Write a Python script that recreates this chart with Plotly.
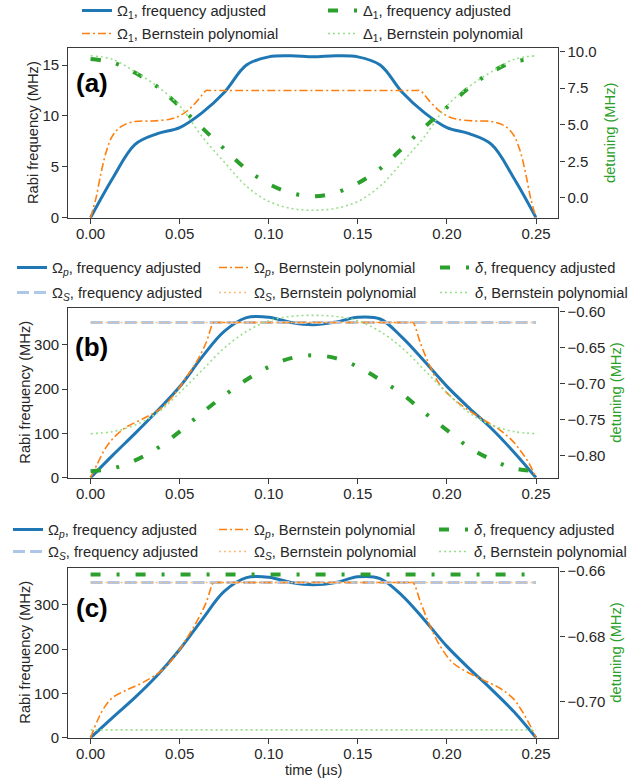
import plotly.graph_objects as go

# ---------------- data ----------------
t_grid = [0.0, 0.0125, 0.025, 0.0375, 0.05, 0.0625, 0.075, 0.0875, 0.1, 0.1125, 0.125,
          0.1375, 0.15, 0.1625, 0.175, 0.1875, 0.2, 0.2125, 0.225, 0.2375, 0.25]

# panel (a)
omega1_fa = [0, 3.9, 7.2, 8.25, 8.85, 10.3, 12.3, 15.0, 15.8, 15.9, 15.8,
             15.9, 15.8, 15.0, 12.3, 10.3, 8.85, 8.25, 7.2, 3.9, 0]
t_bp_a = [0, 0.003, 0.006, 0.009, 0.0125, 0.0175, 0.025, 0.035, 0.045, 0.05, 0.055, 0.06,
          0.065, 0.0665, 0.125, 0.1835, 0.185, 0.19, 0.195, 0.2, 0.205, 0.215, 0.225,
          0.2325, 0.2375, 0.241, 0.244, 0.247, 0.25]
omega1_bp = [0, 1.9, 4.5, 6.6, 8.1, 9.0, 9.45, 9.5, 9.7, 10.0, 10.6, 11.5,
             12.5, 12.5, 12.5, 12.5, 12.5, 11.5, 10.6, 10.0, 9.7, 9.5, 9.45,
             9.0, 8.1, 6.6, 4.5, 1.9, 0]
delta1_fa = [9.5, 9.25, 8.55, 7.6, 6.25, 4.8, 3.35, 1.95, 0.95, 0.33, 0.1,
             0.35, 1.0, 2.0, 3.4, 4.85, 6.2, 7.55, 8.6, 9.3, 9.5]
delta1_bp = [9.72, 9.47, 8.62, 7.62, 6.3, 4.2, 2.45, 0.8, -0.25, -0.72, -0.85,
             -0.72, -0.25, 0.8, 2.45, 4.2, 6.3, 7.62, 8.62, 9.47, 9.72]

# panel (b)
omegaP_fa_b = [0, 51, 100, 151, 205, 272, 330, 361, 362, 350, 345,
               351, 362, 358, 316, 262, 206, 157, 111, 58, 0]
t_bp_bc = [0, 0.004, 0.008, 0.0125, 0.02, 0.03, 0.04, 0.047, 0.054, 0.06, 0.065, 0.069,
           0.0705, 0.125, 0.1795, 0.181, 0.185, 0.19, 0.196, 0.203, 0.21, 0.22, 0.23,
           0.2375, 0.242, 0.246, 0.25]
omegaP_bp_b = [0, 33, 64, 88, 114, 134, 158, 188, 228, 265, 306, 350,
               350, 350, 350, 350, 305, 256, 210, 180, 158, 132, 107,
               80, 57, 33, 0]
t_const = [0.0, 0.25]
omegaS_fa = [350, 350]
omegaS_bp = [350, 350]
delta_fa_b = [-0.822, -0.818, -0.807, -0.790, -0.767, -0.741, -0.717, -0.695, -0.677, -0.665, -0.661,
              -0.665, -0.677, -0.695, -0.715, -0.741, -0.765, -0.789, -0.806, -0.818, -0.822]
delta_bp_b = [-0.770, -0.767, -0.758, -0.741, -0.713, -0.682, -0.651, -0.628, -0.613, -0.607, -0.6055,
              -0.607, -0.613, -0.628, -0.651, -0.682, -0.713, -0.741, -0.758, -0.767, -0.770]

# panel (c)
omegaP_fa_c = [0, 46, 91, 141, 199, 266, 330, 361, 362, 350, 345,
               350, 363, 359, 320, 265, 206, 156, 109, 59, 0]
omegaP_bp_c = [0, 40, 70, 91, 107, 126, 152, 182, 224, 265, 306, 350,
               350, 350, 350, 350, 308, 257, 208, 170, 151, 131, 111,
               87, 61, 33, 0]
delta_fa_c = [-0.661, -0.661]
delta_bp_c = [-0.7087, -0.7087]

# ticks
x_ticks = [0.0, 0.05, 0.10, 0.15, 0.20, 0.25]
x_ticktext = ["0.00", "0.05", "0.10", "0.15", "0.20", "0.25"]
ya_ticks = [0, 5, 10, 15]
ya2_ticks = [0, 2.5, 5, 7.5, 10]
ya2_text = ["0.0", "2.5", "5.0", "7.5", "10.0"]
yb_ticks = [0, 100, 200, 300]
yb2_ticks = [-0.80, -0.75, -0.70, -0.65, -0.60]
yb2_text = ["\u22120.80", "\u22120.75", "\u22120.70", "\u22120.65", "\u22120.60"]
yc2_ticks = [-0.70, -0.68, -0.66]
yc2_text = ["\u22120.70", "\u22120.68", "\u22120.66"]

# ---------------- style ----------------
FONT = "Liberation Sans, Arial, sans-serif"
TXT = "#262626"
BLUE, ORANGE, GREEN = "#1f77b4", "#ff7f0e", "#2ca02c"
LBLUE, LORANGE, LGREEN = "#aec7e8", "#ffbb78", "#98df8a"
W, H = 629, 783

DASHDOT_BIG = "10px,16px,3px,16px"
DASHDOT_SM = "8px,3px,2px,3px"
DASHED = "12px,5px"
DOTTED = "2px,3px"

fig = go.Figure()
legend_layouts = {}
counter = [0]


def add(x, y, xa, ya, name, color, width, dash, shape, pos):
    counter[0] += 1
    lid = "legend" if counter[0] == 1 else f"legend{counter[0]}"
    fig.add_trace(go.Scatter(
        x=x, y=y, xaxis=xa, yaxis=ya, name=name, mode="lines",
        line=dict(color=color, width=width, dash=dash, shape=shape),
        legend=lid, showlegend=True, hoverinfo="skip"))
    legend_layouts[lid] = dict(
        x=(pos[0] - 40) / W, y=1 - pos[1] / H, xanchor="left", yanchor="middle",
        bgcolor="rgba(0,0,0,0)", borderwidth=0,
        font=dict(family=FONT, size=14.7, color=TXT))


# (a)
add(t_grid, omega1_fa, "x", "y", "Ω<sub>1</sub>, frequency adjusted", BLUE, 3, "solid", "spline", (117, 11))
add(t_bp_a, omega1_bp, "x", "y", "Ω<sub>1</sub>, Bernstein polynomial", ORANGE, 1.6, DASHDOT_SM, "spline", (117, 34))
add(t_grid, delta1_fa, "x", "y2", "Δ<sub>1</sub>, frequency adjusted", GREEN, 4, DASHDOT_BIG, "spline", (363, 11))
add(t_grid, delta1_bp, "x", "y2", "Δ<sub>1</sub>, Bernstein polynomial", LGREEN, 1.6, DOTTED, "spline", (363, 34))

# (b)
add(t_grid, omegaP_fa_b, "x2", "y3", "Ω<sub><i>p</i></sub>, frequency adjusted", BLUE, 3, "solid", "spline", (52, 268))
add(t_const, omegaS_fa, "x2", "y3", "Ω<sub><i>S</i></sub>, frequency adjusted", LBLUE, 3, DASHED, "linear", (52, 293))
add(t_bp_bc, omegaP_bp_b, "x2", "y3", "Ω<sub><i>p</i></sub>, Bernstein polynomial", ORANGE, 1.6, DASHDOT_SM, "spline", (254, 268))
add(t_const, omegaS_bp, "x2", "y3", "Ω<sub><i>S</i></sub>, Bernstein polynomial", LORANGE, 1.5, DOTTED, "linear", (254, 293))
add(t_grid, delta_fa_b, "x2", "y4", "<i>δ</i>, frequency adjusted", GREEN, 4, DASHDOT_BIG, "spline", (475, 268))
add(t_grid, delta_bp_b, "x2", "y4", "<i>δ</i>, Bernstein polynomial", LGREEN, 1.6, DOTTED, "spline", (475, 293))

# (c)
add(t_grid, omegaP_fa_c, "x3", "y5", "Ω<sub><i>p</i></sub>, frequency adjusted", BLUE, 3, "solid", "spline", (48, 530))
add(t_const, omegaS_fa, "x3", "y5", "Ω<sub><i>S</i></sub>, frequency adjusted", LBLUE, 3, DASHED, "linear", (48, 552))
add(t_bp_bc, omegaP_bp_c, "x3", "y5", "Ω<sub><i>p</i></sub>, Bernstein polynomial", ORANGE, 1.6, DASHDOT_SM, "spline", (254, 530))
add(t_const, omegaS_bp, "x3", "y5", "Ω<sub><i>S</i></sub>, Bernstein polynomial", LORANGE, 1.5, DOTTED, "linear", (254, 552))
add(t_const, delta_fa_c, "x3", "y6", "<i>δ</i>, frequency adjusted", GREEN, 4, DASHDOT_BIG, "linear", (474, 530))
add(t_const, delta_bp_c, "x3", "y6", "<i>δ</i>, Bernstein polynomial", LGREEN, 1.6, DOTTED, "linear", (474, 552))

X0, X1 = 68.3 / W, 558.3 / W
dom_a = [1 - 217.7 / H, 1 - 48.3 / H]
dom_b = [1 - 477.7 / H, 1 - 307.7 / H]
dom_c = [1 - 737.7 / H, 1 - 567.7 / H]

LINEC = "#3a3a3a"
tickfont = dict(family=FONT, size=15, color=TXT)
common = dict(showgrid=False, zeroline=False, showline=True, linecolor=LINEC, linewidth=1.4,
              ticks="outside", ticklen=5, tickwidth=1.2, tickcolor=LINEC, tickfont=tickfont)
xcommon = dict(common, range=[-0.0125, 0.2625], tickvals=x_ticks, ticktext=x_ticktext,
               domain=[X0, X1], mirror=True, ticklabelstandoff=-3)

fig.update_layout(
    width=W, height=H, autosize=False,
    margin=dict(l=0, r=0, t=0, b=0, autoexpand=False),
    paper_bgcolor="white", plot_bgcolor="white",
    font=dict(family=FONT, color=TXT),
    xaxis=dict(xcommon, anchor="y"),
    yaxis=dict(common, domain=dom_a, anchor="x", range=[0, 16.64], tickvals=ya_ticks),
    yaxis2=dict(common, overlaying="y", side="right", anchor="x", range=[-1.36, 10.23],
                tickvals=ya2_ticks, ticktext=ya2_text),
    xaxis2=dict(xcommon, anchor="y3"),
    yaxis3=dict(common, domain=dom_b, anchor="x2", range=[0, 383.5], tickvals=yb_ticks),
    yaxis4=dict(common, overlaying="y3", side="right", anchor="x2", range=[-0.8311, -0.5949],
                tickvals=yb2_ticks, ticktext=yb2_text),
    xaxis3=dict(xcommon, anchor="y5"),
    yaxis5=dict(common, domain=dom_c, anchor="x3", range=[0, 383.5], tickvals=yb_ticks),
    yaxis6=dict(common, overlaying="y5", side="right", anchor="x3", range=[-0.7111, -0.65895],
                tickvals=yc2_ticks, ticktext=yc2_text),
    **legend_layouts,
)

# axis titles (placed as annotations for exact positioning)
title_font = dict(family=FONT, size=14.7, color=TXT)
green_font = dict(family=FONT, size=14.7, color=GREEN)
for (xl, xr, yc) in [(33, 610, 133.0), (25, 616, 392.7), (25, 616, 652.7)]:
    fig.add_annotation(text="Rabi frequency (MHz)", x=xl / W, y=1 - yc / H, xref="paper", yref="paper",
                       textangle=-90, showarrow=False, xanchor="center", yanchor="middle", font=title_font)
    fig.add_annotation(text="detuning (MHz)", x=xr / W, y=1 - yc / H, xref="paper", yref="paper",
                       textangle=-90, showarrow=False, xanchor="center", yanchor="middle", font=green_font)
fig.add_annotation(text="time (µs)", x=313.3 / W, y=1 - 770 / H, xref="paper", yref="paper",
                   showarrow=False, xanchor="center", yanchor="middle", font=title_font)

for lab, (px, py) in zip(["(a)", "(b)", "(c)"], [(92, 83), (91, 347), (92, 608)]):
    fig.add_annotation(text=f"<b>{lab}</b>", x=px / W, y=1 - py / H, xref="paper", yref="paper",
                       xanchor="center", yanchor="middle", showarrow=False,
                       font=dict(family=FONT, size=26, color="black"))

fig.write_html("out.html")
